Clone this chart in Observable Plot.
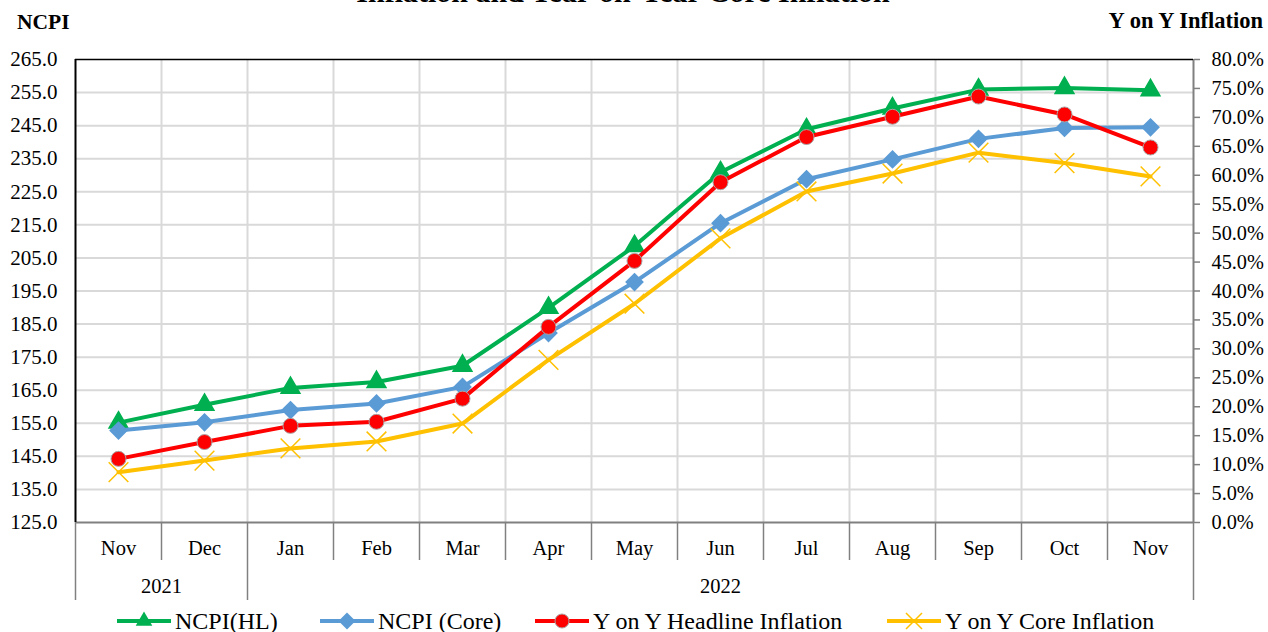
<!DOCTYPE html>
<html>
<head>
<meta charset="utf-8">
<script src="https://cdn.jsdelivr.net/npm/d3@7"></script>
<script src="https://cdn.jsdelivr.net/npm/@observablehq/plot@0.6"></script>
<style>
  html, body { margin: 0; padding: 0; background: #fff; }
  #wrap { position: relative; width: 1268px; height: 632px; overflow: hidden; font-family: "Liberation Serif", "Times New Roman", serif; color: #000; }
  #chart { position: absolute; left: 0; top: 0; }
  .lbl { position: absolute; white-space: nowrap; font-weight: bold; }
  #title { left: 0; width: 1246px; text-align: center; top: -23px; font-size: 30px; line-height: 30px; font-weight: bold; position: absolute; }
  #legend { position: absolute; top: 606px; left: 0; width: 1268px; height: 30px; font-size: 24px; }
  .item { position: absolute; top: 0; display: flex; align-items: center; white-space: nowrap; }
  .item svg { margin-right: 4px; }
</style>
</head>
<body>
<div id="wrap">
  <div id="title">Inflation and Year-on-Year Core Inflation</div>
  <div class="lbl" style="left:17px; top:10px; font-size:21.5px;">NCPI</div>
  <div class="lbl" style="right:5px; top:8px; font-size:22.5px;">Y on Y Inflation</div>
  <div id="chart"></div>
  <div id="legend"></div>
</div>
<script>
// ---- data ----
const months = ["Nov","Dec","Jan","Feb","Mar","Apr","May","Jun","Jul","Aug","Sep","Oct","Nov"];
const years = ["2021","2022"];
const ncpiHL   = [155.2,160.6,165.7,167.5,172.4,189.9,208.6,230.9,243.9,250.2,255.9,256.4,255.7];
const ncpiCore = [152.8,155.3,159.0,161.0,166.0,182.3,197.7,215.5,228.8,234.8,241.0,244.3,244.5];
const yoyHead  = [11.0,13.9,16.7,17.4,21.4,33.8,45.2,58.8,66.6,70.1,73.6,70.5,64.8];
const yoyCore  = [8.7,10.7,12.8,14.0,17.1,28.1,37.8,49.1,57.2,60.3,63.9,62.1,59.8];
const leftTicks = [125,135,145,155,165,175,185,195,205,215,225,235,245,255,265];
const rightTicks = [0,5,10,15,20,25,30,35,40,45,50,55,60,65,70,75,80];

// ---- mapping of right axis (%) onto the left scale ----
const L0 = 125, L1 = 265, P1 = 80;
const pctToLeft = p => L0 + p / P1 * (L1 - L0);
const leftToPct = v => (v - L0) / (L1 - L0) * P1;

const series = [
  {name: "NCPI(HL)", values: ncpiHL, pct: false, color: "#00b050", symbol: "triangle"},
  {name: "NCPI (Core)", values: ncpiCore, pct: false, color: "#5b9bd5", symbol: "diamond2"},
  {name: "Y on Y Headline Inflation", values: yoyHead, pct: true, color: "#ff0000", symbol: "circle"},
  {name: "Y on Y Core Inflation", values: yoyCore, pct: true, color: "#ffc000", symbol: "times"}
];
const rows = series.flatMap(s => s.values.map((v, i) => ({
  series: s.name, i, x: i + 0.5, y: s.pct ? pctToLeft(v) : v
})));
const bySeries = name => rows.filter(r => r.series === name);

const n = months.length;
const font = "Liberation Serif, Times New Roman, serif";

const marks = [
  // gridlines
  Plot.ruleY(leftTicks.slice(1, -1), {stroke: "#d9d9d9", strokeWidth: 2}),
  Plot.ruleX(d3.range(1, n), {stroke: "#d9d9d9", strokeWidth: 2}),
  // axes
  Plot.axisY({anchor: "left", ticks: leftTicks, tickFormat: d => d.toFixed(1), tickSize: 0, tickPadding: 18, fontSize: 21, label: null}),
  Plot.axisY({anchor: "right", ticks: rightTicks.map(pctToLeft), tickFormat: v => leftToPct(v).toFixed(1) + "%", tickSize: 6, tickPadding: 12, fontSize: 20.3, stroke: "#808080", strokeWidth: 1.5, label: null}),
  Plot.axisX({ticks: d3.range(n).map(i => i + 0.5), tickFormat: v => months[Math.floor(v)], tickSize: 0, tickPadding: 18, fontSize: 20.5, label: null}),
  Plot.axisX({ticks: d3.range(1, n).filter(i => i !== 2), tickFormat: () => "", tickSize: 38, stroke: "#808080", strokeWidth: 1.5, label: null}),
  Plot.axisX({ticks: [0, 2, n], tickFormat: () => "", tickSize: 78, stroke: "#808080", strokeWidth: 1.5, label: null}),
  Plot.axisX({ticks: [1, (2 + n) / 2], tickFormat: v => v < 2 ? years[0] : years[1], tickSize: 0, tickPadding: 56, fontSize: 20.5, label: null}),
  // frame
  Plot.ruleY([L0], {stroke: "#808080", strokeWidth: 2}),
  Plot.ruleX([n], {stroke: "#808080", strokeWidth: 2}),
  Plot.ruleY([L1], {stroke: "#000", strokeWidth: 1.5}),
  Plot.ruleX([0], {stroke: "#000", strokeWidth: 2})
];
for (const s of series) {
  const d = bySeries(s.name);
  marks.push(Plot.line(d, {x: "x", y: "y", stroke: s.color, strokeWidth: 4}));
  if (s.symbol === "circle") {
    marks.push(Plot.dot(d, {x: "x", y: "y", r: 7.5, fill: s.color, stroke: "#a6a6a6", strokeWidth: 1}));
  } else if (s.symbol === "times") {
    marks.push(Plot.dot(d, {x: "x", y: "y", symbol: "times", r: 9, stroke: s.color, strokeWidth: 1.5}));
  } else if (s.symbol === "triangle") {
    marks.push(Plot.dot(d, {x: "x", y: "y", symbol: "triangle", r: 7, fill: s.color, stroke: s.color}));
  } else {
    marks.push(Plot.dot(d, {x: "x", y: "y", symbol: "diamond2", r: 7.5, fill: s.color, stroke: s.color}));
  }
}

const chart = Plot.plot({
  width: 1268,
  height: 610,
  marginTop: 59,
  marginBottom: 88,
  marginLeft: 75,
  marginRight: 75,
  style: {fontFamily: font, fontSize: "20px", color: "#000", background: "transparent", overflow: "visible"},
  x: {type: "linear", domain: [0, n]},
  y: {type: "linear", domain: [L0, L1]},
  marks
});
document.getElementById("chart").appendChild(chart);

// ---- legend ----
const legendPos = [117, 320, 535, 887];
const legend = document.getElementById("legend");
series.forEach((s, k) => {
  const item = document.createElement("div");
  item.className = "item";
  item.style.left = legendPos[k] + "px";
  const w = 54, h = 30, cx = w / 2, cy = h / 2;
  let sym = "";
  if (s.symbol === "triangle") sym = `<path d="${d3.symbol(d3.symbolTriangle, 120)()}" transform="translate(${cx},${cy})" fill="${s.color}"/>`;
  if (s.symbol === "diamond2") sym = `<rect x="-6" y="-6" width="12" height="12" transform="translate(${cx},${cy}) rotate(45)" fill="${s.color}"/>`;
  if (s.symbol === "circle") sym = `<circle cx="${cx}" cy="${cy}" r="7" fill="${s.color}" stroke="#a6a6a6"/>`;
  if (s.symbol === "times") sym = `<path d="M-8,-8L8,8M-8,8L8,-8" transform="translate(${cx},${cy})" stroke="${s.color}" stroke-width="1.5"/>`;
  item.innerHTML = `<svg width="${w}" height="${h}"><line x1="0" x2="${w}" y1="${cy}" y2="${cy}" stroke="${s.color}" stroke-width="4"/>${sym}</svg><span>${s.name}</span>`;
  legend.appendChild(item);
});
</script>
</body>
</html>
